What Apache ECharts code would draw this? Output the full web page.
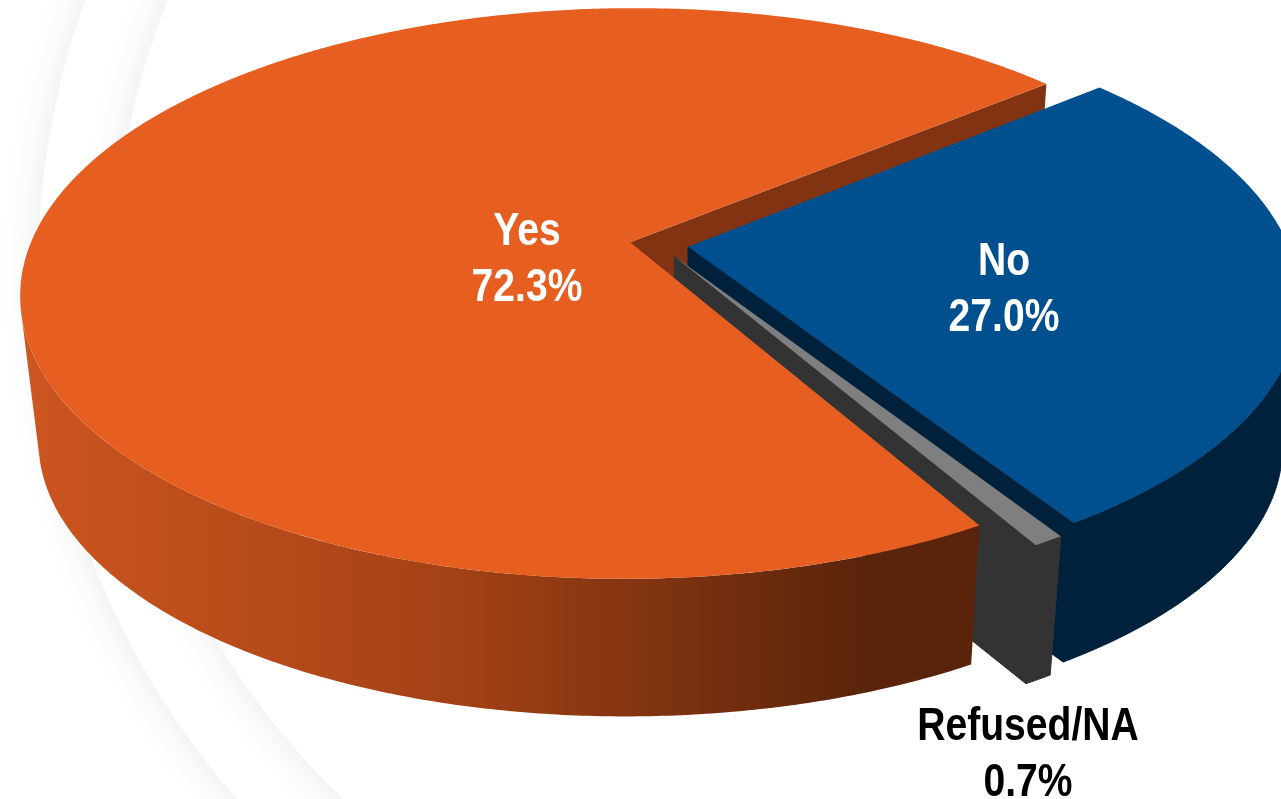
<!DOCTYPE html>
<html>
<head>
<meta charset="utf-8">
<style>html,body{margin:0;padding:0;background:#fff;overflow:hidden}#c{width:1281px;height:799px}</style>
<script src="https://cdn.jsdelivr.net/npm/echarts@6/dist/echarts.min.js"></script>
</head>
<body>
<div id="c"></div>
<script>
// ---- data ----
const categories = ['Yes', 'No', 'Refused/NA'];
const values = [72.3, 27.0, 0.7];

// ---- style ----
const topColors = ['#E65F21', '#00508F', '#7F7F7F'];
const cutColors = ['#813312', '#00213B', '#333333'];
const wallColors = [null, '#00213B', '#333333'];
const labelColors = ['#FFFFFF', '#FFFFFF', '#000000'];
const wallStops = [[0, '#CC5520'], [0.44, '#A54215'], [0.89, '#5A240B'], [1, '#5A240B']];

// ---- layout: label anchors and perspective camera of the tilted pie ----
const labelAt = [[527, 260], [1004, 290], [1028, 755]];
const FONT = { size: 46, line: 56, scaleX: 0.85, family: '"Liberation Sans",Arial,sans-serif' };
const START_ANGLE = 60, EXPLODE = 0.049;
const CAM = { x0: 659, y0: 244.6, a: 600, b: 277, k: 0.18 };
const VP = { x: 679, y: 5527, s: 0.9722 };   // vanishing point of the vertical edges
const WALL_LIMIT = [165, 15, null];          // where each rim's front wall turns out of sight

const total = values.reduce((s, v) => s + v, 0);
const sweeps = values.map(v => v / total * 360);
const starts = sweeps.map((_, i) => START_ANGLE + sweeps.slice(0, i).reduce((s, v) => s + v, 0));
const rad = d => d * Math.PI / 180;

function project(X, Y) {
  const d = 1 - CAM.k * Y;
  return [CAM.x0 + CAM.a * X / d, CAM.y0 + CAM.b * Y / d];
}
function lower(p) {
  return [VP.x + VP.s * (p[0] - VP.x), VP.y - VP.s * (VP.y - p[1])];
}

function renderSlice(params, api) {
  const i = params.dataIndex;
  const sweep = api.value(0) / total * 360;
  const a0 = starts[i], a1 = a0 + sweep, mid = a0 + sweep / 2;
  const ox = EXPLODE * Math.cos(rad(mid)), oy = EXPLODE * Math.sin(rad(mid));
  const at = d => project(ox + Math.cos(rad(d)), oy + Math.sin(rad(d)));
  const arc = (from, to) => {
    const n = Math.max(4, Math.ceil(Math.abs(to - from) * 2)), out = [];
    for (let s = 0; s <= n; s++) out.push(at(from + (to - from) * s / n));
    return out;
  };
  const apex = project(ox, oy);
  const apexLow = lower(apex);
  const last = at(a1);
  const topPts = [apex].concat(arc(a0, a1));

  // only the part of the rim that faces the viewer has a visible wall
  let w0 = a0, w1 = a1;
  if (i === 0) w1 = WALL_LIMIT[0];
  if (i === 1) w0 = a0 + ((WALL_LIMIT[1] - a0) % 360 + 360) % 360;
  const wallRim = arc(w0, w1);
  const wallPts = wallRim.concat(wallRim.map(lower).reverse());

  // painter's order between slices: z2 ranges per slice
  const poly = (points, fill, z2, seam) => ({
    type: 'polygon', shape: { points },
    style: seam ? { fill, stroke: fill, lineWidth: 1 } : { fill }, z2
  });
  const children = [];
  if (i === 0) {
    const grad = new echarts.graphic.LinearGradient(30, 0, 970, 0,
      wallStops.map(s => ({ offset: s[0], color: s[1] })), true);
    children.push(poly([apex, last, lower(last), apexLow], cutColors[0], 1));
    children.push(poly(wallPts, grad, 20));
    children.push(poly(topPts, topColors[0], 21));
  } else {
    const base = i === 1 ? 5 : 10;
    children.push(poly(wallPts, wallColors[i], base, true));
    children.push(poly([apex, last, lower(last), apexLow], cutColors[i], base + 1, true));
    children.push(poly(topPts, topColors[i], base + 2));
  }
  children.push({
    type: 'text', z2: 30,
    x: labelAt[i][0], y: labelAt[i][1], scaleX: FONT.scaleX,
    style: {
      text: categories[i] + '\n' + api.value(0).toFixed(1) + '%',
      x: 0, y: 0,
      fill: labelColors[i], align: 'center', verticalAlign: 'middle',
      fontFamily: FONT.family, fontSize: FONT.size, fontWeight: 'bold', lineHeight: FONT.line
    }
  });
  return { type: 'group', children };
}

const swoosh = r => ({
  type: 'circle', silent: true,
  shape: { cx: 839, cy: 271, r },
  style: { fill: '#FFFFFF', shadowBlur: 40, shadowColor: 'rgba(0,0,0,0.09)' }
});

const chart = echarts.init(document.getElementById('c'), null, { renderer: 'canvas', width: 1281, height: 799 });
chart.setOption({
  animation: false,
  backgroundColor: '#FFFFFF',
  graphic: { elements: [swoosh(801), swoosh(724)] },
  series: [{
    type: 'custom',
    coordinateSystem: 'none',
    silent: true,
    z: 5,
    data: values.map(v => [v]),
    renderItem: renderSlice
  }]
});
</script>
</body>
</html>
